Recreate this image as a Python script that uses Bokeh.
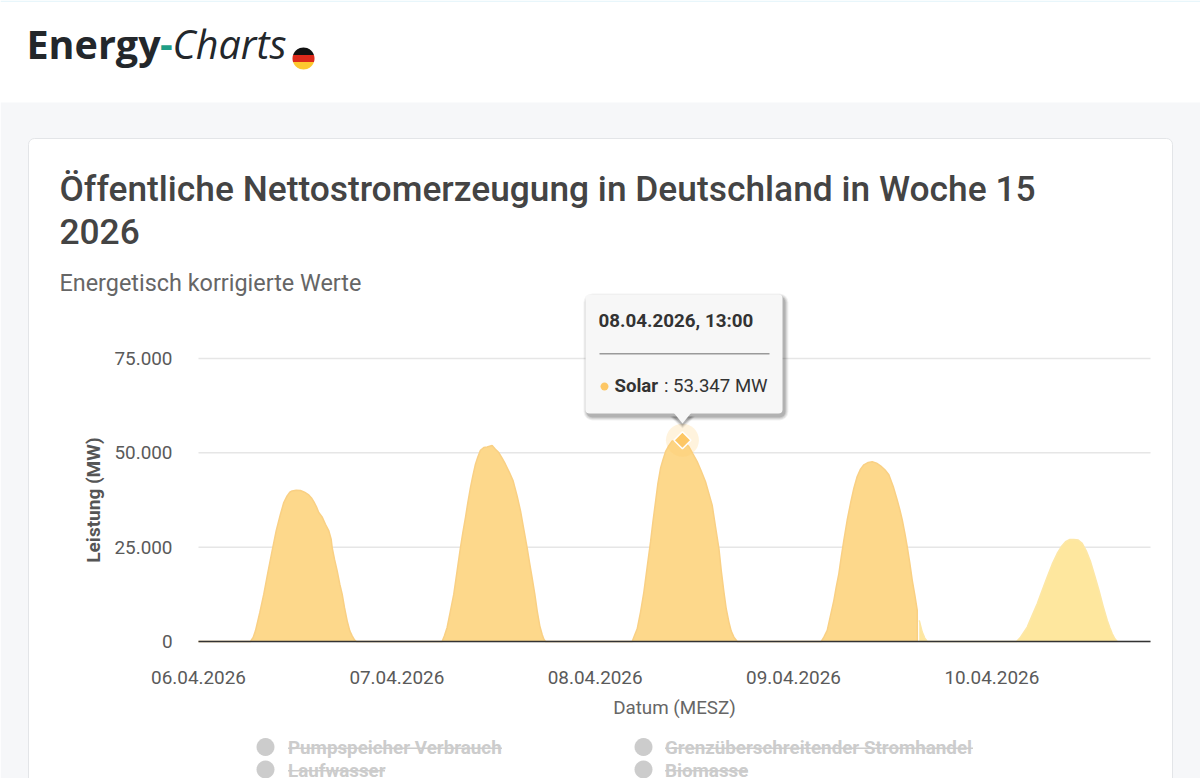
import math
from datetime import datetime, timedelta
from bokeh.plotting import figure
from bokeh.models import (BoxAnnotation, PolyAnnotation, Label, Range1d, FixedTicker,
                          DatetimeAxis, LinearAxis, DatetimeTickFormatter)
from bokeh.embed import file_html
from bokeh.resources import INLINE

# ---------- data ----------
START = datetime(2026, 4, 6, 0, 0)
END = datetime(2026, 4, 11, 0, 0)
TICK_HOURS = [0, 25, 50, 75, 100]          # axis ticks every 25 h
Y_TICKS = [0, 25000, 50000, 75000]
Y_TICK_LABELS = ["0", "25.000", "50.000", "75.000"]

solar_hours = [0, 6.55, 6.89, 7.18, 7.73, 8.23, 8.74, 9.28, 9.79, 10.33, 10.75, 11.17, 11.51, 11.80, 12.31,
               12.85, 13.36, 13.90, 14.24, 14.53, 14.87, 15.16, 15.58, 16.0, 16.43, 16.72, 16.85, 17.14,
               17.48, 17.81, 18.11, 18.40, 18.74, 19.07, 19.37, 19.66, 19.91,
               30.71, 31.0, 31.34, 31.76, 32.18, 32.60, 33.02, 33.32, 33.65, 33.95, 34.28, 34.58, 34.91,
               35.21, 35.54, 35.96, 36.38, 37.01, 37.43, 37.85, 38.27, 38.69, 39.2, 39.66, 40.16, 40.59,
               41.0, 41.42, 41.76, 42.05, 42.39, 42.69, 43.02, 43.31, 43.53, 43.74,
               54.67, 54.96, 55.30, 55.72, 56.14, 56.56, 56.98, 57.28, 57.61, 57.91, 58.24, 58.54, 58.87,
               59.29, 59.71, 60.34, 61.0, 61.39, 61.81, 62.32, 62.86, 63.37, 63.91, 64.33, 64.75, 65.17,
               65.6, 65.89, 66.23, 66.52, 66.86, 67.15, 67.49, 67.91,
               78.5, 78.83, 79.25, 79.67, 80.09, 80.39, 80.72, 81.02, 81.35, 81.77, 82.19, 82.61, 83.03,
               83.45, 83.87, 84.42, 84.92, 85.47, 85.97, 86.52, 87.02, 87.57, 88.07, 88.41, 88.71, 89.04,
               89.34, 89.67, 89.97, 90.30, 90.6, 90.61]
solar_mw = [0, 0, 1060, 2830, 7680, 12540, 18280, 24020, 29320, 33730, 36820, 38590, 39560, 39910, 40090,
            40000, 39560, 38850, 38060, 37090, 35670, 34170, 33020, 31080, 29320, 27110, 24900, 21810,
            18720, 15190, 12540, 9010, 5470, 2830, 1500, 440, 0,
            0, 1500, 3710, 8120, 12540, 18720, 24900, 28870, 32850, 36820, 40790, 43880, 46980,
            48920, 50680, 51390, 51570, 51920, 50950, 50070, 48570, 46980, 44770, 42560, 38590, 34610,
            29760, 24900, 20490, 16950, 12540, 8120, 4150, 1940, 620, 0,
            0, 1590, 3370, 7800, 13110, 19760, 26400, 31720, 37030, 41910, 45900, 48110, 50320,
            51920, 53160, 53300, 53347, 52540, 51650, 49700, 47670, 45190, 42350, 39250, 36150, 30390,
            24630, 18870, 13110, 8680, 5140, 2750, 1150, 0,
            0, 1150, 2930, 6920, 10910, 14460, 18010, 22440, 26880, 32200, 36630, 40620, 43730,
            45680, 46830, 47450, 47630, 47280, 46570, 45500, 44170, 41070, 37520, 34860, 32200, 28650,
            25100, 20670, 16230, 12240, 8250, 0]
forecast_hours = [90.85, 91.23, 91.55, 91.86, 103.12, 103.62, 104.04, 104.46, 105.09, 105.72, 106.35, 106.98,
                  107.61, 108.24, 108.75, 109.29, 109.84, 110.34, 110.89, 111.39, 111.9, 112.45, 112.95,
                  113.5, 114.0, 114.55, 114.88, 115.18, 115.51, 115.81]
forecast_mw = [5600, 2500, 900, 0, 0, 1150, 2480, 3810, 6920, 10020, 13570, 17120,
               20490, 23330, 25100, 26430, 27050, 27050, 26880, 25990, 24040, 21110, 17560,
               13570, 9580, 5590, 3640, 2040, 710, 0]
tooltip_hour = 61.0
tooltip_mw = 53347
legend_left = ["Pumpspeicher Verbrauch", "Laufwasser"]
legend_right = ["Grenzüberschreitender Stromhandel", "Biomasse"]

# ---------- layout: window pixels of the plot area ----------
W, H = 1200, 778
FL, FR, FT, FB = 198, 1150, 358, 641

px_per_h = (FR - FL) / ((END - START).total_seconds() / 3600)
mw_per_px = Y_TICKS[-1] / (FB - FT)
x_start = START - timedelta(hours=FL / px_per_h)
x_end = END + timedelta(hours=(W - FR) / px_per_h)
y_top = Y_TICKS[-1] + FT * mw_per_px
y_bottom = -(H - FB) * mw_per_px


def to_ms(d):
    return (d - datetime(1970, 1, 1)).total_seconds() * 1000


def to_dt(hours):
    return [START + timedelta(hours=h) for h in hours]


p = figure(width=W, height=H, output_backend="svg", toolbar_location=None,
           x_range=Range1d(x_start, x_end), y_range=Range1d(y_bottom, y_top),
           x_axis_type="datetime", x_axis_location=None, y_axis_location=None,
           min_border=0)
p.outline_line_color = None
p.border_fill_color = "#ffffff"
p.background_fill_color = "#ffffff"
p.grid.visible = False


def box(l, t, r, b, fill, alpha=1.0, line=None, radius=0, level="overlay"):
    a = BoxAnnotation(left=l, right=r, top=t, bottom=b,
                      left_units="canvas", right_units="canvas", top_units="canvas", bottom_units="canvas",
                      fill_color=fill, fill_alpha=alpha, line_color=line, line_alpha=1.0 if line else 0,
                      border_radius=radius, level=level, editable=False)
    p.add_layout(a)
    return a


def text(x, y, s, size, color, font="Roboto", style="normal", align="left", baseline="middle", angle=0):
    p.add_layout(Label(x=x, y=y, x_units="canvas", y_units="canvas", text=s,
                       text_font=font, text_font_style=style, text_font_size=f"{size}px",
                       text_color=color, text_align=align, text_baseline=baseline, angle=angle,
                       level="overlay"))


def poly(xs, ys, fill, alpha=1.0, level="overlay"):
    p.add_layout(PolyAnnotation(xs=list(xs), ys=list(ys), xs_units="canvas", ys_units="canvas",
                                fill_color=fill, fill_alpha=alpha, line_color=None, level=level))


# page background and card
box(0, 0, 1200, 1.5, "#e8f6fb", level="image")
box(0, 102, 1200, 790, "#f6f7f9", level="image")
box(28, 138, 1172, 800, "#ffffff", line="#e3e5e8", radius=6, level="image")

# brand
text(26, 43.5, "Energy", 39.5, "#23272b", font="Open Sans", style="bold")
text(159.5, 43.5, "-", 39.5, "#1f9e86", font="Open Sans", style="bold")
text(172, 43.5, "Charts", 39.5, "#23272b", font="Open Sans", style="italic")


def disc_band(cx0, cy0, r, top, bottom, color):
    steps = [top + (bottom - top) * i / 12 for i in range(13)]
    left, right = [], []
    for s in steps:
        half = math.sqrt(max(r * r - (s - cy0) ** 2, 0))
        left.append(cx0 - half)
        right.append(cx0 + half)
    poly(right + left[::-1], steps + steps[::-1], color)


disc_band(303, 58, 11, 47, 54.4, "#111111")
disc_band(303, 58, 11, 54.4, 61.6, "#dd2a1b")
disc_band(303, 58, 11, 61.6, 69, "#fdc82f")

# titles
text(59, 188, "Öffentliche Nettostromerzeugung in Deutschland in Woche 15", 35.3, "#444444", font="Roboto Medium")
text(59, 231, "2026", 35.3, "#444444", font="Roboto Medium")
text(59, 282, "Energetisch korrigierte Werte", 23.4, "#666666")

# grid lines across the plot area only
p.segment(x0=[START] * len(Y_TICKS), x1=[END] * len(Y_TICKS), y0=Y_TICKS, y1=Y_TICKS,
          line_color="#e6e6e6", line_width=1.5)

# axes (fixed_location: they take no layout room, so the frame stays the full canvas)
FMT = "%d.%m.%Y"
xaxis = DatetimeAxis(fixed_location=0, bounds=(to_ms(START), to_ms(END)),
                     ticker=FixedTicker(ticks=[to_ms(START + timedelta(hours=h)) for h in TICK_HOURS]),
                     formatter=DatetimeTickFormatter(microseconds=FMT, milliseconds=FMT, seconds=FMT, minsec=FMT,
                                                     minutes=FMT, hourmin=FMT, hours=FMT, days=FMT, months=FMT,
                                                     years=FMT),
                     axis_label="Datum (MESZ)")
yaxis = LinearAxis(fixed_location=to_ms(START), bounds=(0, Y_TICKS[-1]),
                   ticker=FixedTicker(ticks=Y_TICKS),
                   major_label_overrides={v: s for v, s in zip(Y_TICKS, Y_TICK_LABELS)},
                   axis_label="Leistung (MW)")
for ax in (xaxis, yaxis):
    ax.major_tick_line_color = None
    ax.minor_tick_line_color = None
    ax.major_label_text_font = "Roboto"
    ax.major_label_text_font_size = "18.9px"
    ax.major_label_text_color = "#5a5a5a"
yaxis.axis_line_color = None
xaxis.axis_line_color = "#333333"
xaxis.axis_line_width = 1.5
xaxis.major_label_standoff = 23
yaxis.major_label_standoff = 20
xaxis.axis_label_text_font = "Roboto"
xaxis.axis_label_text_font_style = "normal"
xaxis.axis_label_text_font_size = "18.8px"
xaxis.axis_label_text_color = "#666666"
xaxis.axis_label_standoff = 10
yaxis.axis_label_text_font = "Roboto"
yaxis.axis_label_text_font_style = "bold"
yaxis.axis_label_text_font_size = "19px"
yaxis.axis_label_text_color = "#555555"
yaxis.axis_label_standoff = 6
p.add_layout(xaxis, "below")
p.add_layout(yaxis, "left")

# series
p.varea(x=to_dt(forecast_hours), y1=[0] * len(forecast_mw), y2=forecast_mw, fill_color="#fee79e")
p.line(x=to_dt(forecast_hours), y=forecast_mw, line_color="#fde7a6", line_width=1.5)
p.varea(x=to_dt(solar_hours), y1=[0] * len(solar_mw), y2=solar_mw, fill_color="#fdd88b")
p.line(x=to_dt(solar_hours), y=solar_mw, line_color="#f9d084", line_width=1.5)

# hovered point
p.scatter(x=to_dt([tooltip_hour]), y=[tooltip_mw], size=33, marker="circle", fill_color="#fdc765",
          fill_alpha=0.22, line_color=None)
p.scatter(x=to_dt([tooltip_hour]), y=[tooltip_mw], size=12, marker="square", angle=math.pi / 4,
          fill_color="#fdc765", line_color="#ffffff", line_width=1.5)

# tooltip
for i, al in enumerate((0.05, 0.07, 0.09, 0.12)):
    d = 4 - i
    box(585 - d + 2, 294 - d + 3, 782 + d + 2, 413 + d + 3, "#000000", alpha=al, radius=5 + d)
    poly([673 - d, 691 + d, 682], [413 + 3, 413 + 3, 423 + d + 1], "#000000", alpha=al)
box(585, 294, 782, 413, "#f7f7f7", radius=4)
poly([673, 691, 682], [412, 412, 423], "#f7f7f7")
text(598, 320.5, "08.04.2026, 13:00", 18.8, "#333333", style="bold")
box(599, 352.5, 769, 354, "#9a9a9a")
poly([604 + 4 * math.cos(a * math.pi / 8) for a in range(16)],
     [386 + 4 * math.sin(a * math.pi / 8) for a in range(16)], "#fdc765")
text(614, 385.5, "Solar", 18.6, "#333333", style="bold")
text(663.5, 385.5, ": 53.347 MW", 18.6, "#333333")


# legend (disabled entries)
def legend_entry(dot_x, text_x, y, s, width):
    poly([dot_x + 9 * math.cos(a * math.pi / 12) for a in range(24)],
         [y + 9 * math.sin(a * math.pi / 12) for a in range(24)], "#cccccc")
    text(text_x, y + 1, s, 18.8, "#cccccc", style="bold")
    box(text_x, y + 0.5, text_x + width, y + 2, "#cccccc")


legend_entry(265, 287.5, 746.5, legend_left[0], 214)
legend_entry(265, 287.5, 769, legend_left[1], 97)
legend_entry(643, 664.5, 746.5, legend_right[0], 308)
legend_entry(643, 664.5, 769, legend_right[1], 83)

open("out.html", "w").write(file_html(p, INLINE))
